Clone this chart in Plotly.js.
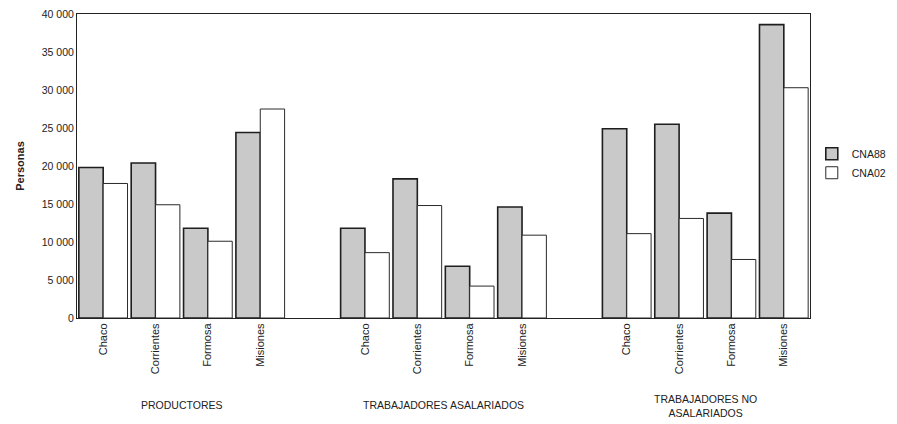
<!DOCTYPE html>
<html>
<head>
<meta charset="utf-8">
<script src="https://cdn.plot.ly/plotly-3.0.1.min.js"></script>
<style>html,body{margin:0;padding:0;background:#fff;}#chart{width:897px;height:424px;}</style>
</head>
<body>
<div id="chart"></div>
<script>
var provinces = ['Chaco', 'Corrientes', 'Formosa', 'Misiones'];
var groups = ['PRODUCTORES', 'TRABAJADORES ASALARIADOS', 'TRABAJADORES NO<br>ASALARIADOS'];
// values in order: group 1 (4 provinces), group 2, group 3
var cna88 = [19800, 20400, 11800, 24400, 11800, 18300, 6800, 14600, 24900, 25500, 13800, 38600];
var cna02 = [17700, 14900, 10100, 27500, 8600, 14800, 4200, 10900, 11100, 13100, 7700, 30300];
var yTicks = [0, 5000, 10000, 15000, 20000, 25000, 30000, 35000, 40000];

var xs = [], tickText = [];
groups.forEach(function (g, gi) {
  provinces.forEach(function (p, pi) {
    xs.push(gi * 5 + pi);
    tickText.push(p);
  });
});

var traces = [
  {type: 'bar', name: 'CNA88', x: xs, y: cna88,
   marker: {color: '#c9c9c9', line: {color: '#1e1e1e', width: 1.6}}},
  {type: 'bar', name: 'CNA02', x: xs, y: cna02,
   marker: {color: '#ffffff', line: {color: '#2a2a2a', width: 1}}}
];

var annotations = groups.map(function (g, gi) {
  var two = g.indexOf('<br>') >= 0;
  return {text: g, x: gi * 5 + 1.5, xref: 'x', y: two ? -0.24 : -0.26, yref: 'paper',
          xanchor: 'center', yanchor: 'top', showarrow: false,
          font: {family: 'Liberation Sans, Arial, sans-serif', size: 10.5, color: '#222'}};
});

var layout = {
  width: 897, height: 424,
  margin: {l: 77, r: 87, t: 14, b: 106},
  paper_bgcolor: '#fff', plot_bgcolor: '#fff',
  barmode: 'group', bargap: 0.07, bargroupgap: 0,
  separators: ', ',
  font: {family: 'Liberation Sans, Arial, sans-serif', size: 10.5, color: '#222'},
  showlegend: true,
  legend: {xref: 'container', yref: 'container', x: 0.905, y: 0.615,
           xanchor: 'left', yanchor: 'middle',
           font: {size: 10.5, color: '#222'}, tracegroupgap: 0, itemwidth: 30,
           bgcolor: 'rgba(0,0,0,0)'},
  xaxis: {range: [-0.5, 13.5], tickvals: xs, ticktext: tickText, tickangle: -90,
          showgrid: false, zeroline: false, showline: true, mirror: true,
          linecolor: '#222', linewidth: 1, ticks: '', tickfont: {size: 11}},
  yaxis: {range: [0, 40000], tickvals: yTicks, tickformat: ',d',
          showgrid: false, zeroline: false, showline: true, mirror: true,
          linecolor: '#222', linewidth: 1, ticks: '', tickfont: {size: 10.5},
          title: {text: '<b>Personas</b>', font: {size: 11}, standoff: 14}},
  annotations: annotations
};

Plotly.newPlot('chart', traces, layout, {displayModeBar: false, staticPlot: true});
</script>
</body>
</html>
